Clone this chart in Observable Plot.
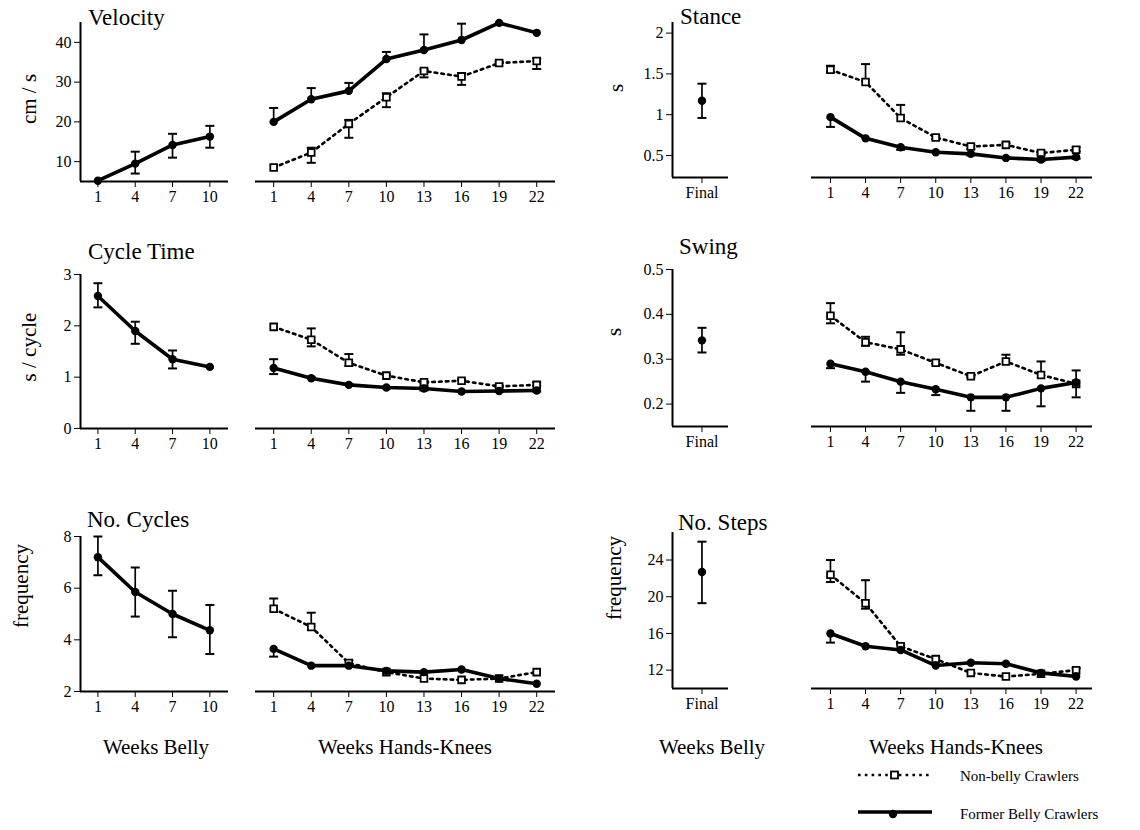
<!DOCTYPE html>
<html><head><meta charset="utf-8">
<script src="https://cdn.jsdelivr.net/npm/d3@7"></script>
<script src="https://cdn.jsdelivr.net/npm/@observablehq/plot@0.6"></script>
<style>
body{margin:0;background:#fff;}
#chart{position:relative;width:1140px;height:830px;font-family:"Liberation Serif",serif;color:#000;background:#fff;overflow:hidden;}
.t{position:absolute;white-space:nowrap;line-height:1;font-family:"Liberation Serif",serif;}
.title{font-size:23px;transform:translateY(-50%);}
.ylab{font-size:21px;transform:translate(-50%,-50%) rotate(-90deg);}
.xlab{font-size:21px;transform:translate(-50%,-50%);}
.leg{font-size:15px;transform:translateY(-50%);}
#chart svg text{font-family:"Liberation Serif",serif !important;font-size:16px !important;}
</style></head><body><div id="chart"></div><script>
// ---------- data ----------
const weeksBelly = [1, 4, 7, 10];
const weeksHK = [1, 4, 7, 10, 13, 16, 19, 22];
const finalLabel = ["Final"];

// Velocity (cm / s)
const velBellyMean = [5.2, 9.5, 14.2, 16.3];
const velBellyLo   = [5.2, 7.0, 11.0, 13.5];
const velBellyHi   = [5.2, 12.5, 17.0, 19.0];
const velFormerMean = [20.0, 25.7, 27.8, 35.8, 38.1, 40.6, 44.9, 42.4];
const velFormerLo   = [20.0, 25.7, 27.8, 35.8, 38.1, 40.6, 44.9, 42.4];
const velFormerHi   = [23.5, 28.5, 29.8, 37.6, 42.0, 44.7, 44.9, 42.4];
const velNonMean = [8.5, 12.3, 19.5, 26.2, 32.8, 31.4, 34.8, 35.3];
const velNonLo   = [8.5, 9.7, 16.0, 23.7, 31.2, 29.3, 34.8, 33.3];
const velNonHi   = [8.5, 13.5, 20.5, 27.2, 33.2, 32.3, 35.2, 36.0];

// Stance (s)
const stanceFinalMean = [1.17], stanceFinalLo = [0.96], stanceFinalHi = [1.38];
const stanceFormerMean = [0.97, 0.71, 0.60, 0.54, 0.52, 0.47, 0.45, 0.48];
const stanceFormerLo   = [0.85, 0.71, 0.57, 0.54, 0.50, 0.47, 0.43, 0.46];
const stanceFormerHi   = [0.97, 0.71, 0.60, 0.54, 0.52, 0.47, 0.45, 0.48];
const stanceNonMean = [1.55, 1.40, 0.96, 0.72, 0.61, 0.63, 0.53, 0.57];
const stanceNonLo   = [1.52, 1.40, 0.96, 0.70, 0.58, 0.63, 0.51, 0.55];
const stanceNonHi   = [1.60, 1.62, 1.12, 0.74, 0.63, 0.65, 0.55, 0.60];

// Cycle Time (s / cycle)
const cycBellyMean = [2.58, 1.90, 1.35, 1.20];
const cycBellyLo   = [2.36, 1.65, 1.17, 1.20];
const cycBellyHi   = [2.83, 2.08, 1.52, 1.20];
const cycFormerMean = [1.18, 0.98, 0.85, 0.80, 0.78, 0.72, 0.73, 0.74];
const cycFormerLo   = [1.06, 0.98, 0.85, 0.78, 0.74, 0.72, 0.71, 0.72];
const cycFormerHi   = [1.35, 1.00, 0.87, 0.80, 0.82, 0.72, 0.73, 0.74];
const cycNonMean = [1.98, 1.73, 1.28, 1.03, 0.90, 0.93, 0.82, 0.85];
const cycNonLo   = [1.98, 1.60, 1.22, 1.03, 0.88, 0.93, 0.80, 0.83];
const cycNonHi   = [1.98, 1.95, 1.45, 1.05, 0.92, 0.95, 0.84, 0.90];

// Swing (s)
const swingFinalMean = [0.342], swingFinalLo = [0.315], swingFinalHi = [0.37];
const swingFormerMean = [0.290, 0.272, 0.250, 0.233, 0.215, 0.215, 0.235, 0.248];
const swingFormerLo   = [0.280, 0.250, 0.225, 0.220, 0.185, 0.185, 0.195, 0.215];
const swingFormerHi   = [0.290, 0.272, 0.250, 0.233, 0.215, 0.215, 0.235, 0.248];
const swingNonMean = [0.397, 0.338, 0.322, 0.292, 0.262, 0.295, 0.265, 0.245];
const swingNonLo   = [0.380, 0.330, 0.310, 0.290, 0.260, 0.295, 0.265, 0.245];
const swingNonHi   = [0.425, 0.350, 0.360, 0.297, 0.265, 0.310, 0.295, 0.275];

// No. Cycles (frequency)
const ncBellyMean = [7.2, 5.85, 5.0, 4.37];
const ncBellyLo   = [6.5, 4.9, 4.1, 3.45];
const ncBellyHi   = [8.0, 6.8, 5.9, 5.35];
const ncFormerMean = [3.65, 3.0, 3.0, 2.8, 2.75, 2.85, 2.5, 2.3];
const ncFormerLo   = [3.35, 3.0, 3.0, 2.8, 2.75, 2.85, 2.5, 2.3];
const ncFormerHi   = [3.65, 3.0, 3.0, 2.8, 2.75, 2.85, 2.5, 2.3];
const ncNonMean = [5.2, 4.5, 3.1, 2.75, 2.5, 2.45, 2.5, 2.75];
const ncNonLo   = [5.2, 4.5, 3.1, 2.75, 2.5, 2.45, 2.5, 2.75];
const ncNonHi   = [5.6, 5.05, 3.2, 2.75, 2.5, 2.45, 2.5, 2.75];

// No. Steps (frequency)
const nsFinalMean = [22.7], nsFinalLo = [19.3], nsFinalHi = [26.0];
const nsFormerMean = [16.0, 14.6, 14.2, 12.5, 12.8, 12.7, 11.7, 11.3];
const nsFormerLo   = [15.0, 14.6, 14.2, 12.5, 12.8, 12.7, 11.7, 11.3];
const nsFormerHi   = [16.0, 14.6, 14.2, 12.5, 12.8, 12.7, 11.7, 11.3];
const nsNonMean = [22.4, 19.3, 14.6, 13.2, 11.7, 11.3, 11.6, 12.0];
const nsNonLo   = [21.6, 18.7, 14.6, 13.2, 11.7, 11.3, 11.6, 12.0];
const nsNonHi   = [24.0, 21.8, 14.8, 13.4, 11.7, 11.3, 11.6, 12.2];

const seriesNames = ["Non-belly Crawlers", "Former Belly Crawlers"];

// ---------- helpers ----------
const rows = (weeks, m, lo, hi) => weeks.map((w, i) => ({w, v: m[i], lo: lo[i], hi: hi[i]}));
const finalRows = (m, lo, hi) => finalLabel.map((lab, i) => ({w: i + 1, lab, v: m[i], lo: lo[i], hi: hi[i]}));
const cap = {draw(ctx, size) { const r = Math.sqrt(size / Math.PI); ctx.moveTo(-r, 0); ctx.lineTo(r, 0); }};

const chart = document.getElementById("chart");
const ML = 48, MR = 12, MT = 10, MB = 36;

function panel(o) {
  const marks = [];
  marks.push(Plot.ruleY([o.yDomain[0]], {stroke: "black", strokeWidth: 2}));
  if (o.yAxis) marks.push(Plot.ruleX([o.xDomain[0]], {stroke: "black", strokeWidth: 2}));
  for (const s of o.series) {
    const d = s.data;
    marks.push(Plot.ruleX(d.filter(r => r.hi > r.lo), {x: "w", y1: "lo", y2: "hi", stroke: "black", strokeWidth: 1.7}));
    marks.push(Plot.dot(d.filter(r => r.hi > r.v), {x: "w", y: "hi", symbol: cap, r: 4.5, fill: "none", stroke: "black", strokeWidth: 2}));
    marks.push(Plot.dot(d.filter(r => r.lo < r.v), {x: "w", y: "lo", symbol: cap, r: 4.5, fill: "none", stroke: "black", strokeWidth: 2}));
  }
  for (const s of o.series) {
    const d = s.data;
    if (s.kind === "non") {
      marks.push(Plot.line(d, {x: "w", y: "v", stroke: "black", strokeWidth: 2.6, strokeDasharray: "2.6,4.2"}));
    } else if (s.kind === "former") {
      marks.push(Plot.line(d, {x: "w", y: "v", stroke: "black", strokeWidth: 3.6}));
    }
  }
  for (const s of o.series) {
    const d = s.data;
    if (s.kind === "non") {
      marks.push(Plot.dot(d, {x: "w", y: "v", symbol: "square", r: 3.8, fill: "white", stroke: "black", strokeWidth: 1.8}));
    } else {
      marks.push(Plot.dot(d, {x: "w", y: "v", r: 4.2, fill: "black", stroke: "none"}));
    }
  }
  const w = o.x1 - o.x0, h = o.y1 - o.y0;
  const svg = Plot.plot({
    width: w + ML + MR, height: h + MT + MB,
    marginLeft: ML, marginRight: MR, marginTop: MT, marginBottom: MB,
    x: {domain: o.xDomain, ticks: o.xTicks, tickFormat: o.xFormat || (d => String(d)), tickSize: 6, tickPadding: 3, label: null},
    y: o.yAxis
      ? {domain: o.yDomain, ticks: o.yTicks, tickFormat: o.yFormat || (d => String(d)), tickSize: 6, tickPadding: 3, label: null}
      : {domain: o.yDomain, axis: null},
    style: {fontFamily: "'Liberation Serif', serif", fontSize: "16px", color: "black", background: "transparent", overflow: "visible"},
    marks
  });
  svg.style.position = "absolute";
  svg.style.left = (o.x0 - ML) + "px";
  svg.style.top = (o.y0 - MT) + "px";
  svg.style.maxWidth = "none";
  chart.appendChild(svg);
}

const bellyX = {x0: 80, x1: 228, xDomain: [-0.4, 11.5], xTicks: weeksBelly};
const hkLX = {x0: 255, x1: 555, xDomain: [-0.45, 23.5], xTicks: weeksHK};
const finalX = {x0: 672, x1: 728, xDomain: [0, 1.9], xTicks: [1], xFormat: d => finalLabel[d - 1]};
const hkRX = {x0: 811, x1: 1092, xDomain: [-0.62, 23.4], xTicks: weeksHK};

// Row 1
const r1L = {y0: 22, y1: 181, yDomain: [5, 45], yTicks: [10, 20, 30, 40]};
panel({...bellyX, ...r1L, yAxis: true, series: [{kind: "former", data: rows(weeksBelly, velBellyMean, velBellyLo, velBellyHi)}]});
panel({...hkLX, ...r1L, yAxis: false, series: [
  {kind: "non", data: rows(weeksHK, velNonMean, velNonLo, velNonHi)},
  {kind: "former", data: rows(weeksHK, velFormerMean, velFormerLo, velFormerHi)}]});
const r1R = {y0: 22, y1: 177, yDomain: [0.23, 2.13], yTicks: [0.5, 1, 1.5, 2]};
panel({...finalX, ...r1R, yAxis: true, series: [{kind: "final", data: finalRows(stanceFinalMean, stanceFinalLo, stanceFinalHi)}]});
panel({...hkRX, ...r1R, yAxis: false, series: [
  {kind: "non", data: rows(weeksHK, stanceNonMean, stanceNonLo, stanceNonHi)},
  {kind: "former", data: rows(weeksHK, stanceFormerMean, stanceFormerLo, stanceFormerHi)}]});

// Row 2
const r2L = {y0: 274, y1: 428, yDomain: [0, 3], yTicks: [0, 1, 2, 3]};
panel({...bellyX, ...r2L, yAxis: true, series: [{kind: "former", data: rows(weeksBelly, cycBellyMean, cycBellyLo, cycBellyHi)}]});
panel({...hkLX, ...r2L, yAxis: false, series: [
  {kind: "non", data: rows(weeksHK, cycNonMean, cycNonLo, cycNonHi)},
  {kind: "former", data: rows(weeksHK, cycFormerMean, cycFormerLo, cycFormerHi)}]});
const r2R = {y0: 269, y1: 426, yDomain: [0.15, 0.5], yTicks: [0.2, 0.3, 0.4, 0.5], yFormat: d => d.toFixed(1)};
panel({...finalX, ...r2R, yAxis: true, series: [{kind: "final", data: finalRows(swingFinalMean, swingFinalLo, swingFinalHi)}]});
panel({...hkRX, ...r2R, yAxis: false, series: [
  {kind: "non", data: rows(weeksHK, swingNonMean, swingNonLo, swingNonHi)},
  {kind: "former", data: rows(weeksHK, swingFormerMean, swingFormerLo, swingFormerHi)}]});

// Row 3
const r3L = {y0: 536, y1: 691, yDomain: [2, 8], yTicks: [2, 4, 6, 8]};
panel({...bellyX, ...r3L, yAxis: true, series: [{kind: "former", data: rows(weeksBelly, ncBellyMean, ncBellyLo, ncBellyHi)}]});
panel({...hkLX, ...r3L, yAxis: false, series: [
  {kind: "non", data: rows(weeksHK, ncNonMean, ncNonLo, ncNonHi)},
  {kind: "former", data: rows(weeksHK, ncFormerMean, ncFormerLo, ncFormerHi)}]});
const r3R = {y0: 532, y1: 688, yDomain: [10, 27], yTicks: [12, 16, 20, 24]};
panel({...finalX, ...r3R, yAxis: true, series: [{kind: "final", data: finalRows(nsFinalMean, nsFinalLo, nsFinalHi)}]});
panel({...hkRX, ...r3R, yAxis: false, series: [
  {kind: "non", data: rows(weeksHK, nsNonMean, nsNonLo, nsNonHi)},
  {kind: "former", data: rows(weeksHK, nsFormerMean, nsFormerLo, nsFormerHi)}]});

// ---------- texts ----------
function text(cls, str, x, y) {
  const el = document.createElement("div");
  el.className = "t " + cls;
  el.textContent = str;
  el.style.left = x + "px";
  el.style.top = y + "px";
  chart.appendChild(el);
}
text("title", "Velocity", 88, 17);
text("title", "Stance", 680, 16);
text("title", "Cycle Time", 88, 251);
text("title", "Swing", 679, 246);
text("title", "No. Cycles", 87, 519);
text("title", "No. Steps", 678, 522);

text("ylab", "cm / s", 29, 99);
text("ylab", "s / cycle", 29, 347);
text("ylab", "frequency", 21, 586);
text("ylab", "s", 616, 88);
text("ylab", "s", 614, 332);
text("ylab", "frequency", 614, 578);

text("xlab", "Weeks Belly", 156, 747);
text("xlab", "Weeks Hands-Knees", 405, 747);
text("xlab", "Weeks Belly", 712, 747);
text("xlab", "Weeks Hands-Knees", 956, 747);

text("leg", seriesNames[0], 960, 776);
text("leg", seriesNames[1], 960, 814);

// legend swatches
const ns = "http://www.w3.org/2000/svg";
const lg = document.createElementNS(ns, "svg");
lg.setAttribute("width", 100); lg.setAttribute("height", 70);
lg.style.position = "absolute"; lg.style.left = "850px"; lg.style.top = "760px";
lg.innerHTML =
  '<line x1="8" x2="82" y1="15" y2="15" stroke="black" stroke-width="2.6" stroke-dasharray="2.6,4.2"/>' +
  '<rect x="41" y="11.5" width="7" height="7" fill="white" stroke="black" stroke-width="1.8"/>' +
  '<line x1="8" x2="82" y1="52" y2="52" stroke="black" stroke-width="3.6"/>' +
  '<circle cx="43" cy="54" r="4.2" fill="black"/>';
chart.appendChild(lg);
</script></body></html>
